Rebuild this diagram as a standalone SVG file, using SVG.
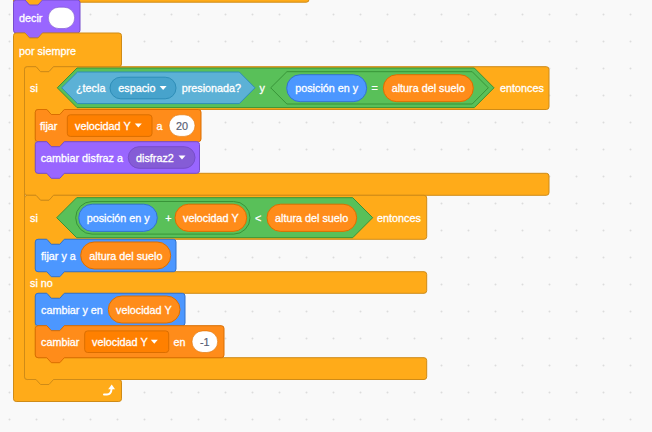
<svg xmlns="http://www.w3.org/2000/svg" width="652" height="432" viewBox="0 0 652 432">
<defs>
<pattern id="grid" x="-4" y="1" width="27" height="27" patternUnits="userSpaceOnUse"><circle cx="13.5" cy="13.5" r="1" fill="#dcdcdc"/></pattern>
<style>
.ctl{fill:#FFAB19;stroke:#CF8B17;stroke-width:1}
.op{fill:#59C059;stroke:#389438;stroke-width:1}
.sen{fill:#5CB1D6;stroke:#2E8EB8;stroke-width:1}
.senf{fill:#47A3CC;stroke:#2E8EB8;stroke-width:1}
.mot{fill:#4C97FF;stroke:#3373CC;stroke-width:1}
.lk{fill:#9966FF;stroke:#774DCB;stroke-width:1}
.lkf{fill:#855CD6;stroke:#774DCB;stroke-width:1}
.var{fill:#FF8C1A;stroke:#DB6E00;stroke-width:1}
.varf{fill:#FF8000;stroke:#DB6E00;stroke-width:1}
.inp{fill:#FFFFFF;stroke:#DB6E00;stroke-width:0.6}
.inpw{fill:#FFFFFF;stroke:#774DCB;stroke-width:0.6}
.t{font-family:"Liberation Sans",Arial,sans-serif;font-size:10.8px;fill:#FFFFFF;stroke:#FFFFFF;stroke-width:0.3;dominant-baseline:central}
.tg{font-family:"Liberation Sans",Arial,sans-serif;font-size:10.8px;fill:#575E75;stroke:#575E75;stroke-width:0.2;dominant-baseline:central;text-anchor:middle}
.arr{fill:#FFFFFF}
</style>
</defs>
<rect width="652" height="432" fill="#F9F9F9"/>
<rect width="652" height="432" fill="url(#grid)"/>
<g id="connectors"/>
<g id="block-above">
<path class="ctl" d="M13.5,-10 H309 V-0.5 a2.7,2.7 0 0 1 -2.7,2.7 H42.5 L38,7.2 H29.5 L25,2.2 H13.5 Z"/>
</g>
<g id="decir">
<path class="lk" d="M13.5,2.7 a2.7,2.7 0 0 1 2.7,-2.7 H25 L29.5,5 H38 L42.5,0 H77.3 a2.7,2.7 0 0 1 2.7,2.7 V30.3 a2.7,2.7 0 0 1 -2.7,2.7 H42.5 L38,38 H29.5 L25,33 H16.2 a2.7,2.7 0 0 1 -2.7,-2.7 Z"/>
<text class="t" x="19" y="17.5">decir</text>
<rect class="inpw" x="48.3" y="7.2" width="26.4" height="21.4" rx="10.7"/>
</g>
<g id="por-siempre">
<path class="ctl" d="M13.5,35.7 a2.7,2.7 0 0 1 2.7,-2.7 H25 L29.5,38 H38 L42.5,33 H118.8 a2.7,2.7 0 0 1 2.7,2.7 V64 a2.7,2.7 0 0 1 -2.7,2.7 H53.5 L49,71.7 H40.5 L36,66.7 H27.2 a2.7,2.7 0 0 0 -2.7,2.7 V376.8 a2.7,2.7 0 0 0 2.7,2.7 H118.8 a2.7,2.7 0 0 1 2.7,2.7 V398.8 a2.7,2.7 0 0 1 -2.7,2.7 H16.2 a2.7,2.7 0 0 1 -2.7,-2.7 Z"/>
<text class="t" x="19" y="50.5">por siempre</text>
<path d="M104,394.5 H107 Q111.2,394.5 111.6,388.5" fill="none" stroke="#FFFFFF" stroke-width="2" stroke-linecap="round"/>
<path class="arr" d="M108.2,389.3 L111.7,384.6 L115,389.3 Z"/>
</g>
<g id="si-1">
<path class="ctl" d="M24.5,69.4 a2.7,2.7 0 0 1 2.7,-2.7 H36 L40.5,71.7 H49 L53.5,66.7 H546.3 a2.7,2.7 0 0 1 2.7,2.7 V106.8 a2.7,2.7 0 0 1 -2.7,2.7 H64.3 L59.8,114.5 H51.3 L46.8,109.5 H38 a2.7,2.7 0 0 0 -2.7,2.7 V170.6 a2.7,2.7 0 0 0 2.7,2.7 H546.3 a2.7,2.7 0 0 1 2.7,2.7 V192.6 a2.7,2.7 0 0 1 -2.7,2.7 H53.5 L49,200.3 H40.5 L36,195.3 H27.2 a2.7,2.7 0 0 1 -2.7,-2.7 Z"/>
<text class="t" x="30" y="88">si</text>
<path class="op" d="M57.3,87.8 L77,68 H474.3 L494,87.8 L474.3,107.6 H77 Z"/>
<path class="sen" d="M61.7,87.8 L77.5,72 H239.3 L255,87.8 L239.3,103.6 H77.5 Z"/>
<text class="t" x="76" y="88">¿tecla</text>
<rect class="senf" x="110" y="77.2" width="66" height="21.6" rx="10.8"/>
<text class="t" x="118.3" y="88">espacio</text>
<path class="arr" d="M159.6,86 H166.6 L163.1,90 Z"/>
<text class="t" x="181.7" y="88">presionada?</text>
<text class="t" x="259.5" y="88">y</text>
<path class="op" d="M270.7,87.8 L286.9,71.7 H472.2 L488.3,87.8 L472.2,104 H286.9 Z"/>
<rect class="mot" x="286.7" y="74.7" width="80" height="27" rx="13.5"/>
<text class="t" x="295.2" y="88">posición en y</text>
<text class="t" x="371.5" y="88">=</text>
<rect class="var" x="383.3" y="74.7" width="90" height="27" rx="13.5"/>
<text class="t" x="391.7" y="88">altura del suelo</text>
<text class="t" x="500" y="88">entonces</text>
</g>
<g id="fijar-velocidad">
<path class="var" d="M35.3,112.2 a2.7,2.7 0 0 1 2.7,-2.7 H46.8 L51.3,114.5 H59.8 L64.3,109.5 H198.3 a2.7,2.7 0 0 1 2.7,2.7 V139 a2.7,2.7 0 0 1 -2.7,2.7 H64.3 L59.8,146.7 H51.3 L46.8,141.7 H38 a2.7,2.7 0 0 1 -2.7,-2.7 Z"/>
<text class="t" x="40" y="125.6">fijar</text>
<rect class="varf" x="67.3" y="114.8" width="84.7" height="21.6" rx="3"/>
<text class="t" x="75" y="125.6">velocidad Y</text>
<path class="arr" d="M134.8,123.6 H141.8 L138.3,127.6 Z"/>
<text class="t" x="156.5" y="125.6">a</text>
<rect class="inp" x="169" y="114.8" width="26" height="21.6" rx="10.8"/>
<text class="tg" x="182" y="125.6">20</text>
</g>
<g id="cambiar-disfraz">
<path class="lk" d="M35.3,144.4 a2.7,2.7 0 0 1 2.7,-2.7 H46.8 L51.3,146.7 H59.8 L64.3,141.7 H196.8 a2.7,2.7 0 0 1 2.7,2.7 V170.6 a2.7,2.7 0 0 1 -2.7,2.7 H64.3 L59.8,178.3 H51.3 L46.8,173.3 H38 a2.7,2.7 0 0 1 -2.7,-2.7 Z"/>
<text class="t" x="40.7" y="157.5">cambiar disfraz a</text>
<rect class="lkf" x="128.3" y="146.7" width="66.7" height="21.6" rx="10.8"/>
<text class="t" x="136" y="157.5">disfraz2</text>
<path class="arr" d="M178.5,155.5 H185.5 L182,159.5 Z"/>
</g>
<g id="si-2">
<path class="ctl" d="M24.5,198 a2.7,2.7 0 0 1 2.7,-2.7 H36 L40.5,200.3 H49 L53.5,195.3 H424 a2.7,2.7 0 0 1 2.7,2.7 V236.6 a2.7,2.7 0 0 1 -2.7,2.7 H64.3 L59.8,244.3 H51.3 L46.8,239.3 H38 a2.7,2.7 0 0 0 -2.7,2.7 V269 a2.7,2.7 0 0 0 2.7,2.7 H424 a2.7,2.7 0 0 1 2.7,2.7 V290.6 a2.7,2.7 0 0 1 -2.7,2.7 H64.3 L59.8,298.3 H51.3 L46.8,293.3 H38 a2.7,2.7 0 0 0 -2.7,2.7 V355 a2.7,2.7 0 0 0 2.7,2.7 H424 a2.7,2.7 0 0 1 2.7,2.7 V376.8 a2.7,2.7 0 0 1 -2.7,2.7 H53.5 L49,384.5 H40.5 L36,379.5 H27.2 a2.7,2.7 0 0 1 -2.7,-2.7 Z"/>
<text class="t" x="30" y="217.5">si</text>
<path class="op" d="M56.7,217.7 L76.7,197.7 H352.7 L372.7,217.7 L352.7,237.7 H76.7 Z"/>
<rect class="op" x="75.7" y="201.5" width="174.3" height="32.6" rx="16.3"/>
<rect class="mot" x="78.7" y="204.2" width="78.6" height="27.2" rx="13.6"/>
<text class="t" x="86.7" y="217.7">posición en y</text>
<text class="t" x="165.3" y="217.7">+</text>
<rect class="var" x="175" y="204.2" width="71.7" height="27.2" rx="13.6"/>
<text class="t" x="183" y="217.7">velocidad Y</text>
<text class="t" x="255" y="217.7">&lt;</text>
<rect class="var" x="267" y="204.2" width="89.7" height="27.2" rx="13.6"/>
<text class="t" x="275" y="217.7">altura del suelo</text>
<text class="t" x="377" y="217.7">entonces</text>
<text class="t" x="30" y="283">si no</text>
</g>
<g id="fijar-y">
<path class="mot" d="M35.3,242 a2.7,2.7 0 0 1 2.7,-2.7 H46.8 L51.3,244.3 H59.8 L64.3,239.3 H173.3 a2.7,2.7 0 0 1 2.7,2.7 V269 a2.7,2.7 0 0 1 -2.7,2.7 H64.3 L59.8,276.7 H51.3 L46.8,271.7 H38 a2.7,2.7 0 0 1 -2.7,-2.7 Z"/>
<text class="t" x="41" y="255.5">fijar y a</text>
<rect class="var" x="80.7" y="242" width="90" height="27" rx="13.5"/>
<text class="t" x="89.3" y="255.5">altura del suelo</text>
</g>
<g id="cambiar-y">
<path class="mot" d="M35.3,296 a2.7,2.7 0 0 1 2.7,-2.7 H46.8 L51.3,298.3 H59.8 L64.3,293.3 H182.3 a2.7,2.7 0 0 1 2.7,2.7 V323 a2.7,2.7 0 0 1 -2.7,2.7 H64.3 L59.8,330.7 H51.3 L46.8,325.7 H38 a2.7,2.7 0 0 1 -2.7,-2.7 Z"/>
<text class="t" x="41" y="309.5">cambiar y en</text>
<rect class="var" x="108.3" y="296" width="71.7" height="27" rx="13.5"/>
<text class="t" x="116" y="309.5">velocidad Y</text>
</g>
<g id="cambiar-velocidad">
<path class="var" d="M35.3,328.4 a2.7,2.7 0 0 1 2.7,-2.7 H46.8 L51.3,330.7 H59.8 L64.3,325.7 H221.3 a2.7,2.7 0 0 1 2.7,2.7 V355 a2.7,2.7 0 0 1 -2.7,2.7 H64.3 L59.8,362.7 H51.3 L46.8,357.7 H38 a2.7,2.7 0 0 1 -2.7,-2.7 Z"/>
<text class="t" x="41" y="341.7">cambiar</text>
<rect class="varf" x="84.7" y="330.9" width="84" height="21.6" rx="3"/>
<text class="t" x="92" y="341.7">velocidad Y</text>
<path class="arr" d="M150.8,339.7 H157.8 L154.3,343.7 Z"/>
<text class="t" x="173.5" y="341.7">en</text>
<rect class="inp" x="192" y="330.9" width="25.7" height="21.6" rx="10.8"/>
<text class="tg" x="204.8" y="341.7">-1</text>
</g>
</svg>
